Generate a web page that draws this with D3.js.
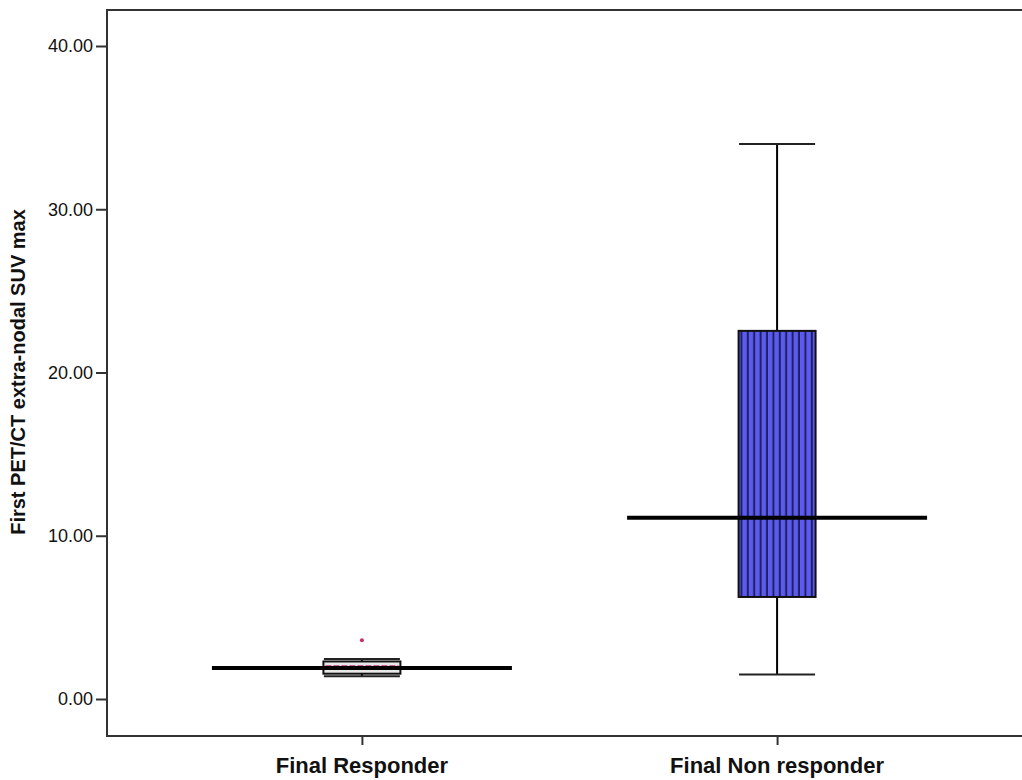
<!DOCTYPE html>
<html>
<head>
<meta charset="utf-8">
<script src="https://d3js.org/d3.v7.min.js"></script>
<style>
body { margin: 0; background: #fff; overflow: hidden; }
svg { display: block; font-family: "Liberation Sans", Arial, sans-serif; }
.tick text { font-size: 18px; fill: #111; }
.xlab { font-size: 22px; font-weight: bold; fill: #111; }
</style>
</head>
<body>
<div id="chart"></div>
<script>
"use strict"

var categories = ["Final Responder", "Final Non responder"];
var whiskerLow = [1.4, 1.5];
var q1 = [1.55, 6.25];
var median = [1.9, 11.1];
var q3 = [2.3, 22.55];
var whiskerHigh = [2.45, 34.0];
var outliers = [[3.6], []];
var yTicks = [0, 10, 20, 30, 40];

var W = 1022, H = 780;
var frame = {left: 107, top: 10, right: 1032, bottom: 736};

var svg = d3.select("#chart").append("svg")
  .attr("width", W).attr("height", H);

var defs = svg.append("defs");
var pat = defs.append("pattern")
  .attr("id", "stripes")
  .attr("patternUnits", "userSpaceOnUse")
  .attr("width", 6.4).attr("height", 10)
  .attr("x", 0);
pat.append("rect").attr("width", 6.4).attr("height", 10).attr("fill", "#5b5bf0");
pat.append("rect").attr("x", 4.4).attr("width", 2).attr("height", 10).attr("fill", "#20205e");

var x = d3.scalePoint()
  .domain(categories)
  .range([frame.left, frame.right])
  .padding(0.614);

var y = d3.scaleLinear()
  .domain([0, 40])
  .range([699, 46]);

var boxHalf = 38.5, medHalf = 150, capHalf = 38;

// frame (right side runs off the picture)
svg.append("path")
  .attr("d", "M" + W + "," + frame.top + "H" + frame.left + "V" + frame.bottom + "H" + W)
  .attr("fill", "none").attr("stroke", "#333").attr("stroke-width", 2);

// y axis
var yAxis = svg.append("g")
  .attr("transform", "translate(" + frame.left + ",0)")
  .call(d3.axisLeft(y).tickValues(yTicks).tickSize(11).tickPadding(3).tickFormat(d3.format(".2f")));
yAxis.select(".domain").remove();
yAxis.selectAll(".tick line").attr("stroke", "#333").attr("stroke-width", 2);

// x axis ticks
var xAxis = svg.append("g")
  .attr("transform", "translate(0," + frame.bottom + ")")
  .call(d3.axisBottom(x).tickSize(9).tickFormat(""));
xAxis.select(".domain").remove();
xAxis.selectAll(".tick line").attr("stroke", "#333").attr("stroke-width", 2);

svg.selectAll(".xlab").data(categories).enter().append("text")
  .attr("class", "xlab")
  .attr("x", function(d) { return x(d); })
  .attr("y", 773)
  .attr("text-anchor", "middle")
  .text(function(d) { return d; });

svg.append("text")
  .attr("transform", "translate(25,372) rotate(-90)")
  .attr("text-anchor", "middle")
  .attr("font-size", "20px").attr("font-weight", "bold").attr("fill", "#111")
  .text("First PET/CT extra-nodal SUV max");

var g = svg.selectAll(".box").data(categories).enter().append("g").attr("class", "box");

// whisker stems
g.append("line")
  .attr("x1", function(d) { return x(d); }).attr("x2", function(d) { return x(d); })
  .attr("y1", function(d, i) { return y(whiskerLow[i]); })
  .attr("y2", function(d, i) { return y(whiskerHigh[i]); })
  .attr("stroke", "#000").attr("stroke-width", 2);

// caps
[whiskerLow, whiskerHigh].forEach(function(arr) {
  g.append("line")
    .attr("x1", function(d) { return x(d) - capHalf; })
    .attr("x2", function(d) { return x(d) + capHalf; })
    .attr("y1", function(d, i) { return y(arr[i]); })
    .attr("y2", function(d, i) { return y(arr[i]); })
    .attr("stroke", "#222").attr("stroke-width", 2);
});

// boxes
g.append("rect")
  .attr("x", function(d) { return x(d) - boxHalf; })
  .attr("width", boxHalf * 2)
  .attr("y", function(d, i) { return y(q3[i]); })
  .attr("height", function(d, i) { return y(q1[i]) - y(q3[i]); })
  .attr("fill", function(d, i) { return i === 1 ? "url(#stripes)" : "#e8e8e8"; })
  .attr("stroke", "#111").attr("stroke-width", 2);

// pink dashed median inside responder box
g.filter(function(d, i) { return i === 0; }).append("line")
  .attr("x1", function(d) { return x(d) - boxHalf + 2; })
  .attr("x2", function(d) { return x(d) + boxHalf - 2; })
  .attr("y1", y(median[0]) - 2).attr("y2", y(median[0]) - 2)
  .attr("stroke", "#c0307a").attr("stroke-width", 1.5).attr("stroke-dasharray", "6,2");

// thick median lines
g.append("line")
  .attr("x1", function(d) { return x(d) - medHalf; })
  .attr("x2", function(d) { return x(d) + medHalf; })
  .attr("y1", function(d, i) { return y(median[i]); })
  .attr("y2", function(d, i) { return y(median[i]); })
  .attr("stroke", "#000").attr("stroke-width", 4);

// outliers
categories.forEach(function(c, i) {
  svg.selectAll(null).data(outliers[i]).enter().append("circle")
    .attr("cx", x(c)).attr("cy", function(v) { return y(v); })
    .attr("r", 2).attr("fill", "#c0306a");
});
</script>
</body>
</html>
